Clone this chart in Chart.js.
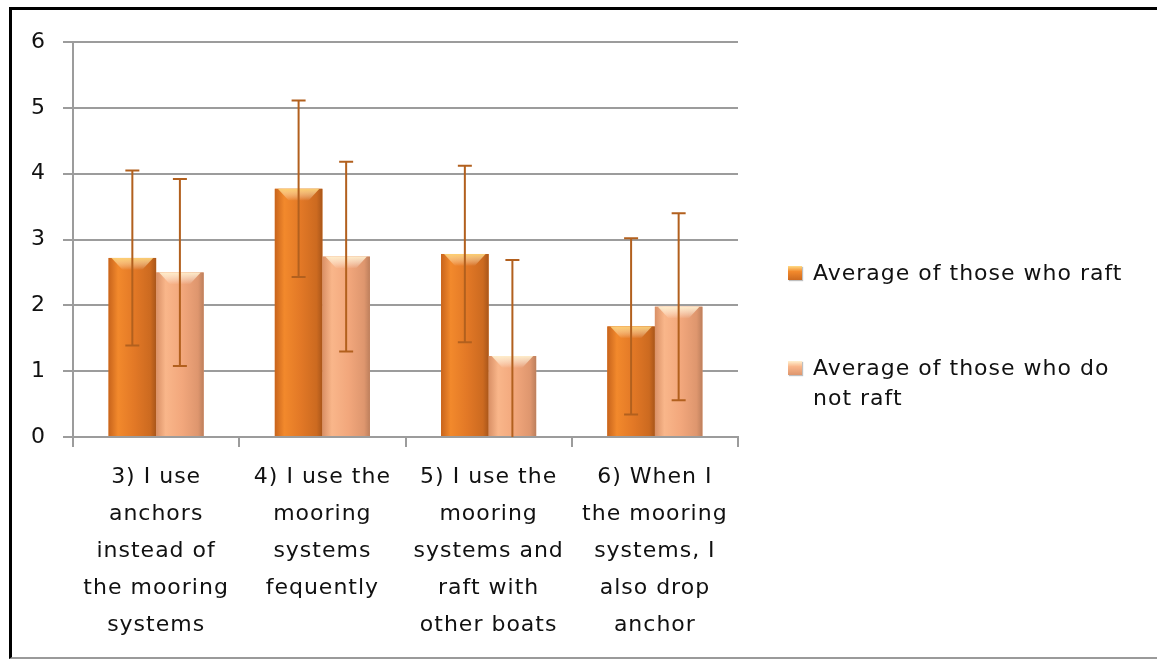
<!DOCTYPE html>
<html><head><meta charset="utf-8">
<script src="https://cdn.jsdelivr.net/npm/chart.js@4/dist/chart.umd.min.js"></script>
<style>
html,body{margin:0;padding:0;background:#fff;width:1157px;height:661px;overflow:hidden;}
#wrap{position:relative;width:1157px;height:661px;}
#c{position:absolute;left:0;top:0;}
#frame{position:absolute;left:9px;top:7px;width:1160px;height:647px;border-top:3px solid #000;border-left:3px solid #000;border-bottom:2px solid #9a9a9a;pointer-events:none;}
.leg{position:absolute;left:788px;font-family:'DejaVu Sans',sans-serif;font-size:22px;letter-spacing:1px;line-height:30px;color:#111;}
.leg .sw{position:absolute;left:0;top:8px;width:14px;height:14px;}
.leg .tx{margin-left:25px;width:335px;}
</style>
</head><body>
<div id="wrap">
<canvas id="c" width="1157" height="661"></canvas>
<div id="frame"></div>
<div id="legend"></div>
</div>
<script>
const categories = [
  ["3) I use","anchors","instead of","the mooring","systems"],
  ["4) I use the","mooring","systems","fequently"],
  ["5) I use the","mooring","systems and","raft with","other boats"],
  ["6) When I","the mooring","systems, I","also drop","anchor"]
];
const seriesNames = ["Average of those who raft","Average of those who do not raft"];
const raftAvg = [2.72, 3.77, 2.78, 1.68];
const noRaftAvg = [2.50, 2.74, 1.23, 1.98];
const raftErr = [1.33, 1.34, 1.34, 1.34];
const noRaftErr = [1.42, 1.44, 1.46, 1.42];
const yTicks = [0, 1, 2, 3, 4, 5, 6];

const errs = [raftErr, noRaftErr];
const baseColors = ['#E07A26', '#EFA57C'];
const gradStops = [
  [[0,'#C8641C'],[0.2,'#F2892C'],[0.55,'#E27826'],[0.88,'#CC6A20'],[1,'#A9561A']],
  [[0,'#D99066'],[0.2,'#F9B68A'],[0.55,'#F2A77C'],[0.88,'#DE966E'],[1,'#BD7F5C']]
];
const bevel = ['rgba(255,215,120,0.9)','rgba(255,240,205,0.95)'];
const gridColor = '#9c9c9c';
const LS = '1px';

const spacingPlugin = {
  id: 'spacing',
  beforeLayout(chart){ chart.ctx.letterSpacing = LS; },
  beforeDraw(chart){ chart.ctx.letterSpacing = LS; }
};

const shadeAndErrors = {
  id: 'shadeErr',
  afterDatasetsDraw(chart){
    const ctx = chart.ctx, ys = chart.scales.y;
    chart.data.datasets.forEach((ds, i) => {
      const meta = chart.getDatasetMeta(i);
      meta.data.forEach((bar) => {
        const p = bar.getProps(['x','y','width','base'], true);
        const x0 = p.x - p.width/2, x1 = p.x + p.width/2;
        const g = ctx.createLinearGradient(x0, 0, x1, 0);
        gradStops[i].forEach(s => g.addColorStop(s[0], s[1]));
        ctx.save();
        ctx.fillStyle = g;
        ctx.fillRect(x0, p.y, x1 - x0, p.base - p.y);
        const h = Math.min(12, (p.base - p.y) / 2);
        const bg = ctx.createLinearGradient(0, p.y, 0, p.y + h);
        bg.addColorStop(0, bevel[i]);
        bg.addColorStop(1, 'rgba(255,255,255,0)');
        ctx.fillStyle = bg;
        ctx.beginPath();
        ctx.moveTo(x0 + 3, p.y);
        ctx.lineTo(x1 - 3, p.y);
        ctx.lineTo(x1 - 14, p.y + h);
        ctx.lineTo(x0 + 14, p.y + h);
        ctx.closePath();
        ctx.fill();
        ctx.restore();
      });
    });
    chart.data.datasets.forEach((ds, i) => {
      const meta = chart.getDatasetMeta(i);
      meta.data.forEach((bar, j) => {
        const v = ds.data[j], e = errs[i][j];
        const top = ys.getPixelForValue(v + e);
        const bot = ys.getPixelForValue(Math.max(0, v - e));
        const x = bar.x;
        ctx.save();
        ctx.strokeStyle = '#B2601E';
        ctx.lineWidth = 2;
        ctx.beginPath();
        ctx.moveTo(x, top); ctx.lineTo(x, bot);
        ctx.moveTo(x - 7, top); ctx.lineTo(x + 7, top);
        if (v - e > 0) { ctx.moveTo(x - 7, bot); ctx.lineTo(x + 7, bot); }
        ctx.stroke();
        ctx.restore();
      });
    });
  }
};

Chart.defaults.font.family = "'DejaVu Sans', sans-serif";
Chart.defaults.font.size = 22;
Chart.defaults.color = '#111';

new Chart(document.getElementById('c'), {
  type: 'bar',
  data: {
    labels: categories,
    datasets: [
      { label: seriesNames[0], data: raftAvg, backgroundColor: baseColors[0], borderWidth: 0 },
      { label: seriesNames[1], data: noRaftAvg, backgroundColor: baseColors[1], borderWidth: 0 }
    ]
  },
  options: {
    responsive: false,
    animation: false,
    devicePixelRatio: 1,
    categoryPercentage: 0.572,
    barPercentage: 1,
    layout: { padding: { left: 0, right: 419, top: 42, bottom: 0 } },
    plugins: { legend: { display: false }, tooltip: { enabled: false } },
    scales: {
      x: {
        grid: { display: true, drawOnChartArea: false, drawTicks: true, tickLength: 10, color: gridColor, lineWidth: 2, offset: true },
        border: { display: true, color: gridColor, width: 2 },
        ticks: { font: { size: 22, lineHeight: 1.68 }, padding: 12, maxRotation: 0, autoSkip: false, color: '#111' },
        afterFit(s){ s.height = 224; }
      },
      y: {
        min: yTicks[0], max: yTicks[yTicks.length - 1],
        afterBuildTicks(s){ s.ticks = yTicks.map(v => ({ value: v })); },
        grid: { color: gridColor, lineWidth: 2, tickLength: 10, drawTicks: true },
        border: { display: true, color: gridColor, width: 2 },
        ticks: { padding: 17, font: { size: 22 }, color: '#111' },
        afterFit(s){ s.width = 73; }
      }
    }
  },
  plugins: [spacingPlugin, shadeAndErrors]
});

const legendTops = [258, 353];
const legend = document.getElementById('legend');
seriesNames.forEach((name, i) => {
  const d = document.createElement('div');
  d.className = 'leg';
  d.style.top = legendTops[i] + 'px';
  const sw = document.createElement('div');
  sw.className = 'sw';
  sw.style.background = 'linear-gradient(180deg,' + bevel[i] + ' 0%,' + gradStops[i][1][1] + ' 40%,' + gradStops[i][3][1] + ' 100%)';
  sw.style.boxShadow = '1px 1px 1px rgba(0,0,0,0.25)';
  const tx = document.createElement('div');
  tx.className = 'tx';
  tx.textContent = name;
  d.appendChild(sw); d.appendChild(tx);
  legend.appendChild(d);
});
</script>
</body></html>
